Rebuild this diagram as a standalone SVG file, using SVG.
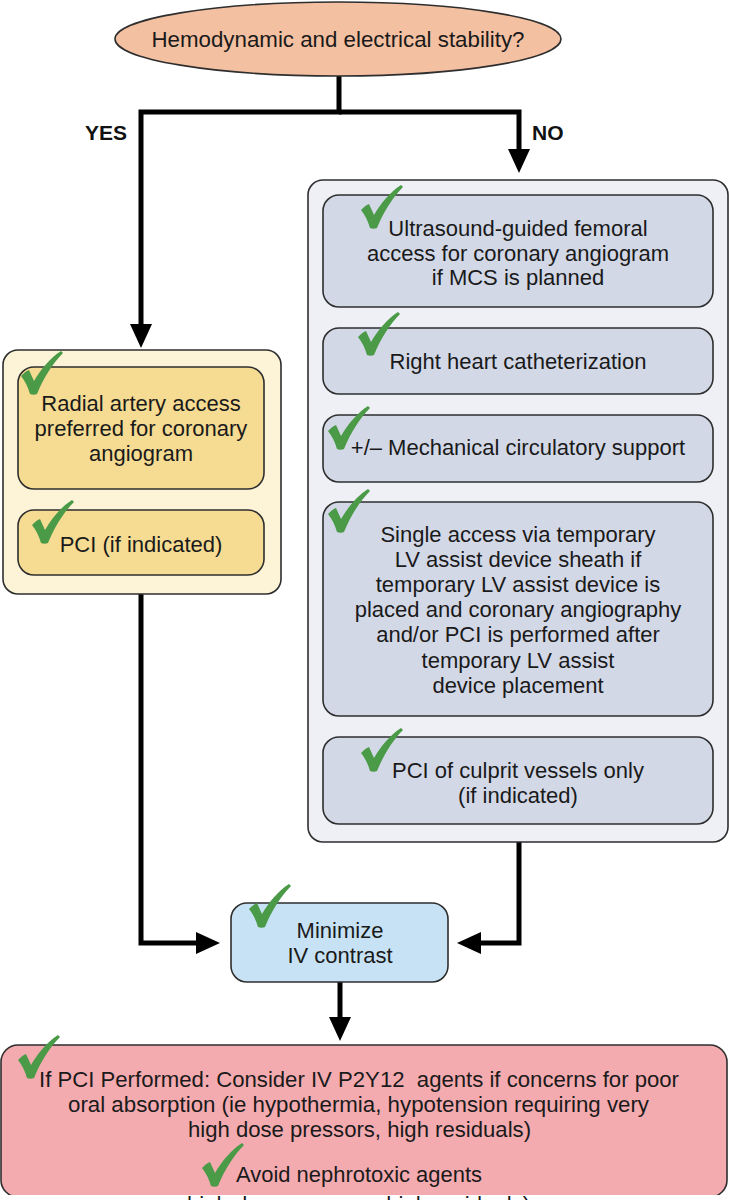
<svg xmlns="http://www.w3.org/2000/svg" xmlns:xlink="http://www.w3.org/1999/xlink" width="729" height="1200" viewBox="0 0 729 1200">
<style>
.t{font-family:"Liberation Sans",Arial,sans-serif;font-size:22px;fill:#1a1a1a;text-anchor:middle}
.lbl{font-family:"Liberation Sans",Arial,sans-serif;font-size:21px;font-weight:bold;fill:#111}
.box{stroke:#2e2e2e;stroke-width:1.6}
.conn{fill:none;stroke:#000;stroke-width:5;stroke-linejoin:miter;stroke-linecap:butt}
.red{font-family:"Liberation Sans Narrow","Liberation Sans",Arial,sans-serif;font-size:22px;fill:#1a1a1a}
</style>
<defs>
<marker id="arr" viewBox="0 0 24 22" refX="0" refY="11" markerWidth="24" markerHeight="22" markerUnits="userSpaceOnUse" orient="auto">
<path d="M0,0 L24,11 L0,22 Z" fill="#000"/>
</marker>
<symbol id="chk" viewBox="0 0 42 44">
<path d="M0,25 C3,22 5,20 8,19 L13,30 C20,18 29,7 40,0 L42,2 C32,12 23,26 16,43 C14,44 11,44 9,43 C7,36 4,30 0,25 Z" fill="#4a9a47"/>
</symbol>
</defs>
<rect width="729" height="1200" fill="#fff"/>

<g id="connectors">
<path class="conn" d="M339,76 V112 H141 V324" marker-end="url(#arr)"/>
<path class="conn" d="M339,112 H519 V149" marker-end="url(#arr)"/>
<path class="conn" d="M141,594 V943 H196" marker-end="url(#arr)"/>
<path class="conn" d="M519,842 V943 H481" marker-end="url(#arr)"/>
<path class="conn" d="M340,982 V1017" marker-end="url(#arr)"/>
</g>

<g id="labels">
<text class="lbl" x="85" y="140">YES</text>
<text class="lbl" x="532" y="140">NO</text>
</g>

<g id="start">
<ellipse cx="338" cy="39" rx="223" ry="37" fill="#f4c0a2" class="box"/>
<text class="t" x="338" y="47" style="font-size:22px" textLength="373" lengthAdjust="spacingAndGlyphs">Hemodynamic and electrical stability?</text>
</g>

<g id="yes-group">
<rect x="3" y="350" width="278" height="244" rx="15" fill="#fdf3d6" class="box"/>
</g>
<g id="radial">
<rect x="18" y="367" width="246" height="122" rx="16" fill="#f6dc93" class="box"/>
<text class="t" x="141" y="411">Radial artery access</text>
<text class="t" x="141" y="436">preferred for coronary</text>
<text class="t" x="141" y="461">angiogram</text>
<use xlink:href="#chk" x="21" y="351" width="42" height="44"/>
</g>
<g id="pci-yes">
<rect x="18" y="510" width="246" height="65" rx="16" fill="#f6dc93" class="box"/>
<text class="t" x="141" y="552">PCI (if indicated)</text>
<use xlink:href="#chk" x="32" y="500" width="42" height="44"/>
</g>

<g id="no-group">
<rect x="308" y="180" width="420" height="662" rx="15" fill="#eef0f6" class="box"/>
</g>
<g id="ultrasound">
<rect x="323" y="195" width="390" height="112" rx="16" fill="#d3d8e7" class="box"/>
<text class="t" x="518" y="236">Ultrasound-guided femoral</text>
<text class="t" x="518" y="261">access for coronary angiogram</text>
<text class="t" x="518" y="285">if MCS is planned</text>
<use xlink:href="#chk" x="361" y="185" width="42" height="44"/>
</g>
<g id="rhc">
<rect x="323" y="328" width="390" height="66" rx="16" fill="#d3d8e7" class="box"/>
<text class="t" x="518" y="369">Right heart catheterization</text>
<use xlink:href="#chk" x="358" y="312" width="42" height="44"/>
</g>
<g id="mcs">
<rect x="323" y="415" width="390" height="67" rx="16" fill="#d3d8e7" class="box"/>
<text class="t" x="518" y="455">+/– Mechanical circulatory support</text>
<use xlink:href="#chk" x="328" y="406" width="42" height="44"/>
</g>
<g id="single-access">
<rect x="323" y="502" width="390" height="214" rx="16" fill="#d3d8e7" class="box"/>
<text class="t" x="518" y="542">Single access via temporary</text>
<text class="t" x="518" y="567">LV assist device sheath if</text>
<text class="t" x="518" y="592">temporary LV assist device is</text>
<text class="t" x="518" y="617">placed and coronary angiography</text>
<text class="t" x="518" y="642">and/or PCI is performed after</text>
<text class="t" x="518" y="668">temporary LV assist</text>
<text class="t" x="518" y="693">device placement</text>
<use xlink:href="#chk" x="328" y="489" width="42" height="44"/>
</g>
<g id="pci-culprit">
<rect x="323" y="737" width="390" height="87" rx="16" fill="#d3d8e7" class="box"/>
<text class="t" x="518" y="778">PCI of culprit vessels only</text>
<text class="t" x="518" y="803">(if indicated)</text>
<use xlink:href="#chk" x="361" y="728" width="42" height="44"/>
</g>

<g id="minimize">
<rect x="231" y="903" width="217" height="79" rx="16" fill="#c7e2f4" class="box"/>
<text class="t" x="340" y="938">Minimize</text>
<text class="t" x="340" y="963">IV contrast</text>
<use xlink:href="#chk" x="249" y="884" width="42" height="44"/>
</g>

<g id="final">
<rect x="1" y="1045" width="726" height="152" rx="17" fill="#f4abb0" class="box"/>
<text class="red" x="39" y="1087" textLength="640" lengthAdjust="spacingAndGlyphs" xml:space="preserve">If PCI Performed: Consider IV P2Y12  agents if concerns for poor</text>
<text class="red" x="68" y="1112" textLength="581" lengthAdjust="spacingAndGlyphs">oral absorption (ie hypothermia, hypotension requiring very</text>
<text class="red" x="188" y="1137" textLength="343" lengthAdjust="spacingAndGlyphs">high dose pressors, high residuals)</text>
<text class="red" x="236" y="1182" textLength="246" lengthAdjust="spacingAndGlyphs">Avoid nephrotoxic agents</text>
<use xlink:href="#chk" x="18" y="1035" width="42" height="44"/>
<use xlink:href="#chk" x="202" y="1143" width="42" height="44"/>
<rect x="0" y="1195" width="729" height="5" fill="#fff"/>
<text class="red" x="187" y="1212" textLength="343" lengthAdjust="spacingAndGlyphs">high dose pressors, high residuals)</text>
</g>
</svg>
